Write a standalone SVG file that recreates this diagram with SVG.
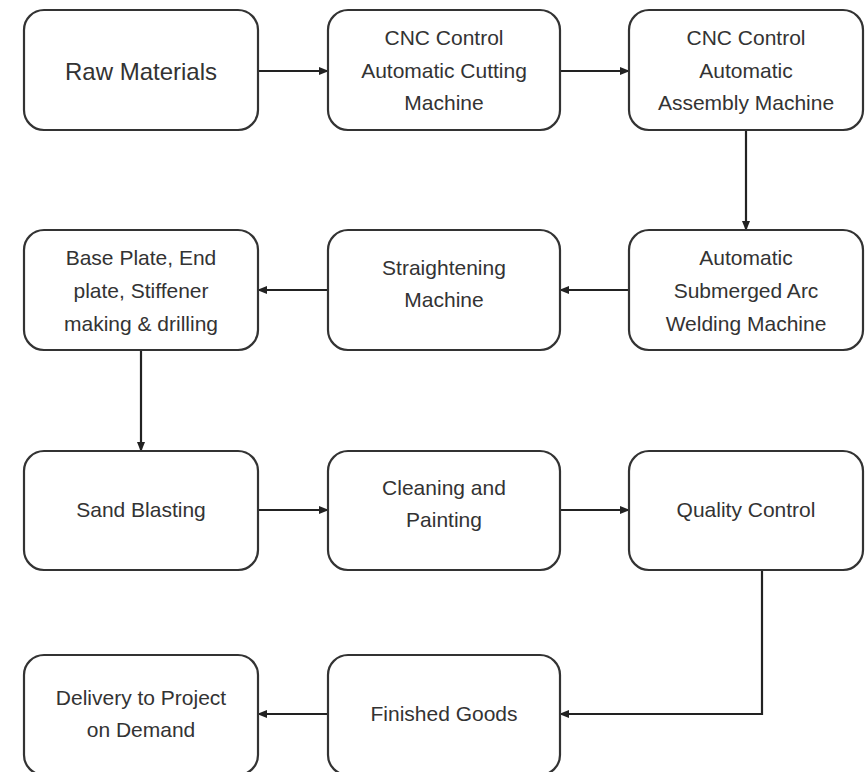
<svg xmlns="http://www.w3.org/2000/svg" width="865" height="772" viewBox="0 0 865 772">
<defs>
<marker id="ah" markerUnits="userSpaceOnUse" markerWidth="10" markerHeight="8" refX="9" refY="4" orient="auto">
<path d="M0,0 L10,4 L0,8 Z" fill="#222"/>
</marker>
<style>
.box{fill:#fff;stroke:#333;stroke-width:2.2}
.t{font-family:"Liberation Sans",Arial,sans-serif;font-size:21px;fill:#333;text-anchor:middle}
.big{font-size:24px}
.c{fill:none;stroke:#222;stroke-width:2.2;marker-end:url(#ah)}
</style>
</defs>
<rect width="865" height="772" fill="#fff"/>
<g id="connectors">
<line class="c" x1="258" y1="71" x2="328" y2="71"/>
<line class="c" x1="560" y1="71" x2="629" y2="71"/>
<line class="c" x1="746" y1="130" x2="746" y2="230"/>
<line class="c" x1="629" y1="290" x2="560" y2="290"/>
<line class="c" x1="328" y1="290" x2="258" y2="290"/>
<line class="c" x1="141" y1="350" x2="141" y2="451"/>
<line class="c" x1="258" y1="510" x2="328" y2="510"/>
<line class="c" x1="560" y1="510" x2="629" y2="510"/>
<polyline class="c" points="762,570 762,714 560,714"/>
<line class="c" x1="328" y1="714" x2="258" y2="714"/>
</g>
<g id="raw-materials">
<rect class="box" x="24" y="10" width="234" height="120" rx="20"/>
<text class="t big" x="141" y="80">Raw Materials</text>
</g>
<g id="cnc-cutting">
<rect class="box" x="328" y="10" width="232" height="120" rx="20"/>
<text class="t" x="444" y="45">CNC Control</text>
<text class="t" x="444" y="78">Automatic Cutting</text>
<text class="t" x="444" y="110">Machine</text>
</g>
<g id="cnc-assembly">
<rect class="box" x="629" y="10" width="234" height="120" rx="20"/>
<text class="t" x="746" y="45">CNC Control</text>
<text class="t" x="746" y="78">Automatic</text>
<text class="t" x="746" y="110">Assembly Machine</text>
</g>
<g id="base-plate">
<rect class="box" x="24" y="230" width="234" height="120" rx="20"/>
<text class="t" x="141" y="265">Base Plate, End</text>
<text class="t" x="141" y="298">plate, Stiffener</text>
<text class="t" x="141" y="331">making &amp; drilling</text>
</g>
<g id="straightening">
<rect class="box" x="328" y="230" width="232" height="120" rx="20"/>
<text class="t" x="444" y="275">Straightening</text>
<text class="t" x="444" y="307">Machine</text>
</g>
<g id="saw">
<rect class="box" x="629" y="230" width="234" height="120" rx="20"/>
<text class="t" x="746" y="265">Automatic</text>
<text class="t" x="746" y="298">Submerged Arc</text>
<text class="t" x="746" y="331">Welding Machine</text>
</g>
<g id="sand-blasting">
<rect class="box" x="24" y="451" width="234" height="119" rx="20"/>
<text class="t" x="141" y="517">Sand Blasting</text>
</g>
<g id="cleaning-painting">
<rect class="box" x="328" y="451" width="232" height="119" rx="20"/>
<text class="t" x="444" y="495">Cleaning and</text>
<text class="t" x="444" y="527">Painting</text>
</g>
<g id="quality-control">
<rect class="box" x="629" y="451" width="234" height="119" rx="20"/>
<text class="t" x="746" y="517">Quality Control</text>
</g>
<g id="delivery">
<rect class="box" x="24" y="655" width="234" height="120" rx="20"/>
<text class="t" x="141" y="705">Delivery to Project</text>
<text class="t" x="141" y="737">on Demand</text>
</g>
<g id="finished-goods">
<rect class="box" x="328" y="655" width="232" height="120" rx="20"/>
<text class="t" x="444" y="721">Finished Goods</text>
</g>
</svg>
